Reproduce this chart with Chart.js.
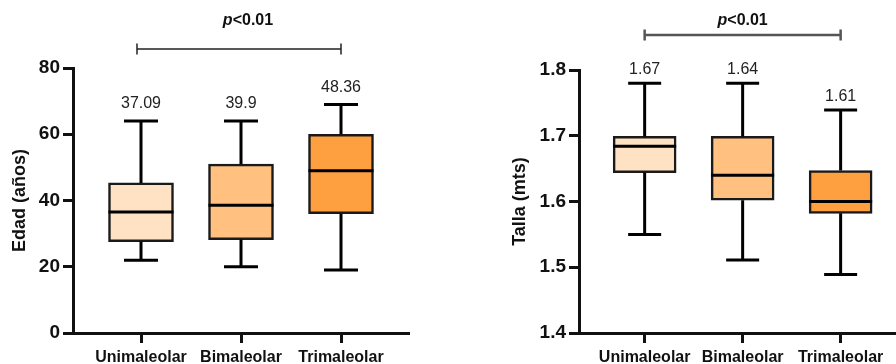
<!DOCTYPE html>
<html lang="es">
<head>
    <meta charset="UTF-8">
    <title>Edad y talla por tipo de fractura</title>
    <script src="https://cdn.jsdelivr.net/npm/chart.js"></script>
    <style>
        body {
            margin: 0;
            padding: 0;
            background: #fff;
        }

        .row {
            display: flex;
            width: 896px;
            height: 364px;
        }

        canvas {
            display: block;
        }
    </style>
</head>
<body>
    <div class="row">
        <canvas id="edadChart" width="448" height="364"></canvas>
        <canvas id="tallaChart" width="448" height="364"></canvas>
    </div>

    <script>
        // Data
        const categories = ['Unimaleolar', 'Bimaleolar', 'Trimaleolar'];
        const boxColors = ['#FFE1C4', '#FFC080', '#FFA040'];

        const edadMin = [22, 20, 19];
        const edadQ1 = [27.6, 28.2, 36];
        const edadMedian = [36.5, 38.6, 49];
        const edadQ3 = [45.3, 51, 60];
        const edadMax = [64, 64, 69];
        const edadMean = ['37.09', '39.9', '48.36'];
        const edadTicks = [0, 20, 40, 60, 80];

        const tallaMin = [1.55, 1.511, 1.489];
        const tallaQ1 = [1.644, 1.602, 1.582];
        const tallaMedian = [1.684, 1.64, 1.60];
        const tallaQ3 = [1.699, 1.699, 1.647];
        const tallaMax = [1.78, 1.78, 1.739];
        const tallaMean = ['1.67', '1.64', '1.61'];
        const tallaTicks = [1.4, 1.5, 1.6, 1.7, 1.8];

        const pValue = '<0.01';

        const FONT = "'Liberation Sans', Arial, sans-serif";

        // draws whiskers, medians, means and the p bracket
        const boxPlugin = {
            id: 'boxParts',
            afterDatasetsDraw(chart, args, opts) {
                const ctx = chart.ctx;
                const xs = chart.scales.x;
                const ys = chart.scales.y;
                const half = opts.boxWidth / 2;
                const cap = opts.capWidth / 2;

                ctx.save();
                ctx.strokeStyle = '#000';
                ctx.lineCap = 'butt';
                for (let i = 0; i < categories.length; i++) {
                    const x = xs.getPixelForValue(i);
                    const yMin = ys.getPixelForValue(opts.min[i]);
                    const yQ1 = ys.getPixelForValue(opts.q1[i]);
                    const yMed = ys.getPixelForValue(opts.median[i]);
                    const yQ3 = ys.getPixelForValue(opts.q3[i]);
                    const yMax = ys.getPixelForValue(opts.max[i]);

                    ctx.lineWidth = 3;
                    ctx.beginPath();
                    ctx.moveTo(x, yQ3); ctx.lineTo(x, yMax);
                    ctx.moveTo(x - cap, yMax); ctx.lineTo(x + cap, yMax);
                    ctx.moveTo(x, yQ1); ctx.lineTo(x, yMin);
                    ctx.moveTo(x - cap, yMin); ctx.lineTo(x + cap, yMin);
                    ctx.moveTo(x - half, yMed); ctx.lineTo(x + half, yMed);
                    ctx.stroke();

                    // mean label
                    ctx.fillStyle = '#222';
                    ctx.font = '16px ' + FONT;
                    ctx.textAlign = 'center';
                    ctx.textBaseline = 'middle';
                    ctx.fillText(opts.mean[i], x, yMax - opts.labelGap);
                }

                // significance bracket
                const b = opts.bracket;
                const x1 = xs.getPixelForValue(b.from);
                const x2 = xs.getPixelForValue(b.to);
                ctx.strokeStyle = b.color;
                ctx.lineWidth = b.width;
                ctx.beginPath();
                ctx.moveTo(x1, b.y); ctx.lineTo(x2, b.y);
                ctx.moveTo(x1, b.y - 5.5); ctx.lineTo(x1, b.y + 5.5);
                ctx.moveTo(x2, b.y - 5.5); ctx.lineTo(x2, b.y + 5.5);
                ctx.stroke();

                ctx.fillStyle = '#111';
                ctx.textBaseline = 'middle';
                ctx.font = 'italic bold 16px ' + FONT;
                const pW = ctx.measureText('p').width;
                ctx.font = 'bold 16px ' + FONT;
                const restW = ctx.measureText(pValue).width;
                let tx = xs.getPixelForValue(b.textAt) - (pW + restW) / 2;
                ctx.textAlign = 'left';
                ctx.font = 'italic bold 16px ' + FONT;
                ctx.fillText('p', tx, 21);
                ctx.font = 'bold 16px ' + FONT;
                ctx.fillText(pValue, tx + pW, 21);
                ctx.restore();
            }
        };

        function makeBoxChart(id, s) {
            return new Chart(document.getElementById(id), {
                type: 'bar',
                data: {
                    datasets: [{
                        data: categories.map((c, i) => ({ x: i, y: [s.q1[i], s.q3[i]] })),
                        backgroundColor: boxColors,
                        borderColor: '#1a1a1a',
                        borderWidth: 2.5,
                        borderSkipped: false,
                        barThickness: s.boxWidth
                    }]
                },
                options: {
                    responsive: false,
                    animation: false,
                    layout: {
                        padding: { left: 0, right: s.padRight, top: s.padTop, bottom: 0 }
                    },
                    plugins: {
                        legend: { display: false },
                        tooltip: { enabled: false },
                        boxParts: s
                    },
                    scales: {
                        x: {
                            type: 'linear',
                            offset: false,
                            min: s.xMin,
                            max: s.xMax,
                            afterBuildTicks: (sc) => { sc.ticks = categories.map((c, i) => ({ value: i })); },
                            afterFit: (sc) => { sc.height = 31; },
                            grid: {
                                offset: false,
                                drawOnChartArea: false,
                                tickLength: 10,
                                tickWidth: 3,
                                tickColor: '#111'
                            },
                            border: { color: '#111', width: 3 },
                            ticks: {
                                padding: 5,
                                color: '#111',
                                font: { family: FONT, size: 16, weight: 'bold' },
                                callback: (v) => categories[v]
                            }
                        },
                        y: {
                            min: s.ticks[0],
                            max: s.ticks[s.ticks.length - 1],
                            afterBuildTicks: (sc) => { sc.ticks = s.ticks.map(v => ({ value: v })); },
                            afterFit: (sc) => { sc.width = s.axisLeft; },
                            grid: {
                                drawOnChartArea: false,
                                tickLength: 10,
                                tickWidth: 3,
                                tickColor: '#111'
                            },
                            border: { color: '#111', width: 3 },
                            ticks: {
                                padding: 3,
                                color: '#111',
                                font: { family: FONT, size: 19, weight: 'bold' },
                                callback: (v) => s.tickFmt(v)
                            },
                            title: {
                                display: true,
                                text: s.title,
                                color: '#111',
                                font: { family: FONT, size: 18, weight: 'bold' },
                                padding: { top: s.titlePad, bottom: 0 }
                            }
                        }
                    }
                },
                plugins: [boxPlugin]
            });
        }

        makeBoxChart('edadChart', {
            min: edadMin, q1: edadQ1, median: edadMedian, q3: edadQ3, max: edadMax, mean: edadMean,
            ticks: edadTicks,
            tickFmt: (v) => String(v),
            title: 'Edad (años)',
            titlePad: 9,
            axisLeft: 73,
            padTop: 68,
            padRight: 39,
            xMin: -0.68,
            xMax: 2.68,
            boxWidth: 65,
            capWidth: 34,
            labelGap: 17,
            bracket: { from: -0.04, to: 2, textAt: 1.07, y: 49, color: '#222', width: 1.5 }
        });

        makeBoxChart('tallaChart', {
            min: tallaMin, q1: tallaQ1, median: tallaMedian, q3: tallaQ3, max: tallaMax, mean: tallaMean,
            ticks: tallaTicks,
            tickFmt: (v) => v.toFixed(1),
            title: 'Talla (mts)',
            titlePad: 61,
            axisLeft: 131,
            padTop: 70,
            padRight: 0,
            xMin: -0.67,
            xMax: 2.565,
            boxWidth: 63,
            capWidth: 33,
            labelGap: 14,
            bracket: { from: 0, to: 2, textAt: 1.0, y: 35, color: '#555', width: 2.5 }
        });
    </script>
</body>
</html>
